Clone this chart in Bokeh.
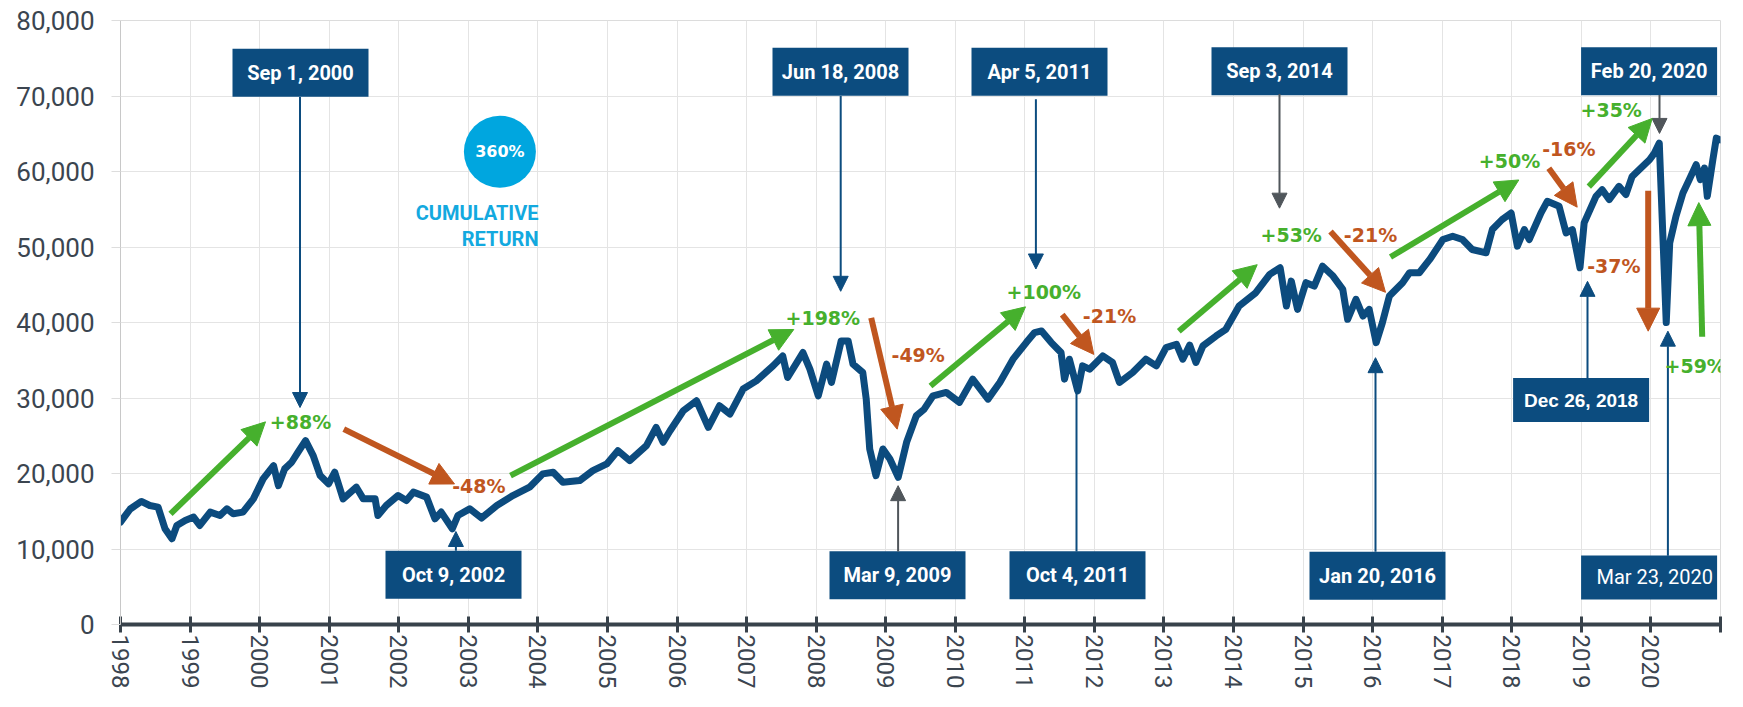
from bokeh.plotting import figure
from bokeh.models import Range1d, FixedTicker, NumeralTickFormatter, Arrow, NormalHead, Label
from bokeh.embed import file_html
from bokeh.resources import INLINE

# ---------------- data ----------------
years = [1998.00, 1998.14, 1998.30, 1998.42, 1998.54, 1998.64, 1998.74, 1998.81, 1998.93,
         1999.05, 1999.14, 1999.29, 1999.43, 1999.53, 1999.62, 1999.76, 1999.91,
         2000.05, 2000.20, 2000.27, 2000.36, 2000.46, 2000.55, 2000.66, 2000.77, 2000.87, 2000.99,
         2001.08, 2001.20, 2001.39, 2001.49, 2001.66, 2001.70, 2001.82, 2001.99,
         2002.11, 2002.21, 2002.40, 2002.52, 2002.61, 2002.77, 2002.85,
         2003.02, 2003.19, 2003.41, 2003.64, 2003.88,
         2004.07, 2004.22, 2004.36, 2004.60, 2004.79, 2004.99,
         2005.15, 2005.32, 2005.56, 2005.70, 2005.80, 2005.90,
         2006.09, 2006.28, 2006.45, 2006.61, 2006.76, 2006.95,
         2007.14, 2007.38, 2007.52, 2007.59, 2007.81, 2007.91,
         2008.03, 2008.15, 2008.22, 2008.36, 2008.46, 2008.53, 2008.67, 2008.72, 2008.77, 2008.86, 2008.96,
         2009.06, 2009.18, 2009.30, 2009.44, 2009.55, 2009.68, 2009.87,
         2010.06, 2010.25, 2010.47, 2010.64, 2010.83,
         2011.02, 2011.14, 2011.24, 2011.38, 2011.52, 2011.57, 2011.64, 2011.76, 2011.83, 2011.93,
         2012.12, 2012.26, 2012.36, 2012.55, 2012.74, 2012.89,
         2013.03, 2013.18, 2013.27, 2013.37, 2013.46, 2013.56, 2013.75, 2013.89,
         2014.08, 2014.32, 2014.52, 2014.67, 2014.76, 2014.83, 2014.92,
         2015.04, 2015.16, 2015.28, 2015.43, 2015.57, 2015.64, 2015.76, 2015.86, 2015.95,
         2016.05, 2016.14, 2016.24, 2016.43, 2016.53, 2016.67, 2016.82,
         2017.01, 2017.15, 2017.29, 2017.43, 2017.63, 2017.72, 2017.86, 2017.99,
         2018.08, 2018.18, 2018.25, 2018.42, 2018.51, 2018.68, 2018.78, 2018.87, 2018.98,
         2019.04, 2019.21, 2019.30, 2019.40, 2019.54, 2019.64, 2019.73, 2019.83, 2019.98,
         2020.05, 2020.12, 2020.17, 2020.22, 2020.27, 2020.36, 2020.46, 2020.55, 2020.65, 2020.71,
         2020.77, 2020.81, 2020.89, 2020.94, 2020.99]
values = [13570, 15300, 16300, 15760, 15550, 12680, 11360, 13120, 13780,
          14230, 13120, 14890, 14440, 15320, 14660, 14890, 16640,
          19290, 21040, 18400, 20610, 21490, 22810, 24350, 22370, 19720, 18630,
          20170, 16640, 18190, 16640, 16640, 14440, 15760, 17080,
          16420, 17530, 16870, 14000, 14890, 12680, 14440,
          15320, 14100, 15760, 17080, 18190,
          19950, 20170, 18850, 19060, 20380, 21270,
          23030, 21700, 23690, 26110, 24130, 25670,
          28310, 29630, 26110, 28970, 27870, 31180,
          32270, 34250, 35570, 32720, 36020, 33820,
          30290, 34480, 32060, 37560, 37560, 34480, 33380, 29850, 23250, 19720, 23250,
          21930, 19500, 24130, 27650, 28500, 30290, 30740,
          29420, 32500, 29850, 32060, 35140,
          37340, 38660, 38880, 37340, 36020, 32500, 35140, 30950, 34250, 33820,
          35570, 34700, 32060, 33380, 35140, 34250,
          36680, 37120, 35140, 37000, 34700, 36900, 38220, 39100,
          42180, 43950, 46370, 47250, 42180, 45480, 41740,
          45270, 44820, 47460, 46150, 44380, 40420, 43070, 40860, 41740,
          37340, 39980, 43500, 45270, 46590, 46590, 48350,
          50990, 51430, 50990, 49670, 49230, 52310, 53630, 54510,
          50110, 52310, 50990, 54510, 56050, 55390, 51870, 52310, 47250,
          53190, 56710, 57590, 56280, 58030, 56940, 59350, 60240, 61560,
          62440, 63760, 51870, 39990, 50550, 54070, 57150, 58920, 60900, 58920,
          60460, 56710, 61560, 64420, 64200]

x_ticks = list(range(1998, 2022))
x_tick_labels = [str(y) for y in range(1998, 2021)] + [""]
y_ticks = list(range(0, 80001, 10000))

date_labels_top = ["Sep 1, 2000", "Jun 18, 2008", "Apr 5, 2011", "Sep 3, 2014", "Feb 20, 2020"]
date_labels_bottom = ["Oct 9, 2002", "Mar 9, 2009", "Oct 4, 2011", "Jan 20, 2016"]
pct_labels = ["+88%", "-48%", "+198%", "-49%", "+100%", "-21%", "+53%", "-21%",
              "+50%", "-16%", "+35%", "-37%", "+59%"]
cumulative_label = "360%"

# ---------------- styling / layout helpers ----------------
NAVY = "#0c4c7f"
GREEN = "#46b02d"
ORANGE = "#c0561f"
GRAY = "#50565b"
CYAN = "#00a6df"
TXT = "#3b4550"

# reference-pixel -> data mapping (plot frame: x 120..1720, y 626..20)
def X(px):
    return 1998 + (px - 120.0) / 1600.0 * 23

def Y(py):
    return (626 - py) / 606.0 * 80000

p = figure(width=1727, height=691, x_range=Range1d(1998, 2021), y_range=Range1d(0, 80000),
           output_backend="svg", toolbar_location=None,
           min_border_left=120, min_border_right=7, min_border_top=20, min_border_bottom=65)
p.background_fill_color = "white"
p.border_fill_color = "white"
p.outline_line_color = "#dcdcdc"

p.xgrid.ticker = FixedTicker(ticks=x_ticks)
p.ygrid.ticker = FixedTicker(ticks=y_ticks)
p.grid.grid_line_color = "#e4e4e4"
p.grid.grid_line_width = 1

xa = p.xaxis[0]
xa.ticker = FixedTicker(ticks=x_ticks)
xa.major_label_overrides = {t: l for t, l in zip(x_ticks, x_tick_labels)}
xa.major_label_orientation = "vertical"
xa.axis_line_color = "#38424b"
xa.axis_line_width = 4
xa.major_tick_line_color = "#38424b"
xa.major_tick_line_width = 3
xa.major_tick_in = 8
xa.major_tick_out = 8
xa.minor_tick_line_color = None
xa.major_label_standoff = 2
xa.major_label_text_font = "Roboto"
xa.major_label_text_font_size = "24px"
xa.major_label_text_color = TXT

ya = p.yaxis[0]
ya.ticker = FixedTicker(ticks=y_ticks)
ya.formatter = NumeralTickFormatter(format="0,0")
ya.axis_line_color = "#c8c8c8"
ya.major_tick_line_color = "#dddddd"
ya.major_tick_in = 0
ya.major_tick_out = 9
ya.minor_tick_line_color = None
ya.major_label_standoff = 17
ya.major_label_text_font = "Roboto"
ya.major_label_text_font_size = "26px"
ya.major_label_text_color = TXT

# leader line hidden behind the data line (Oct 4, 2011)
p.segment(x0=[X(1076)], y0=[Y(552.7)], x1=[X(1076)], y1=[Y(392)], line_color=NAVY, line_width=2)

# main series
p.line(years, values, line_color="#0c4b7e", line_width=7, line_join="round", line_cap="round")

# cumulative return badge
p.scatter(x=[X(499.4)], y=[Y(151.7)], size=72, marker="circle", fill_color=CYAN, line_color=None)
p.add_layout(Label(x=X(499.4), y=Y(151.7), text=cumulative_label, text_align="center",
                   text_baseline="middle", text_color="white", text_font="DejaVu Sans",
                   text_font_style="bold", text_font_size="16px"))
for txt, py in [("CUMULATIVE", 213.3), ("RETURN", 239.3)]:
    p.add_layout(Label(x=X(538), y=Y(py), text=txt, text_align="right", text_baseline="middle",
                       text_color="#13a9df", text_font="Roboto", text_font_style="bold",
                       text_font_size="20px"))

# date boxes (centre x, centre y in reference pixels)
top_box_pos = [(300, 72.3), (840, 71.3), (1039, 71.3), (1279, 71), (1648.6, 71)]
bottom_box_pos = [(453, 576), (897, 576.7), (1077, 576.7), (1377, 577)]
bx = [X(c[0]) for c in top_box_pos + bottom_box_pos] + [X(1580.6), X(1648.6)]
by = [Y(c[1]) for c in top_box_pos + bottom_box_pos] + [Y(400.8), Y(578.8)]
bh = [48] * 9 + [44, 44]
p.rect(x=bx, y=by, width=[136] * 11, height=bh, width_units="screen", height_units="screen",
       fill_color=NAVY, line_color=None)

for txt, (cx, cy) in zip(date_labels_top + date_labels_bottom, top_box_pos + bottom_box_pos):
    p.add_layout(Label(x=X(cx), y=Y(cy), text=txt, text_align="center", text_baseline="middle",
                       text_color="white", text_font="Roboto", text_font_style="bold",
                       text_font_size="20px"))
p.add_layout(Label(x=X(1580.6), y=Y(400.8), text="Dec 26, 2018", text_align="center",
                   text_baseline="middle", text_color="white", text_font="Liberation Sans",
                   text_font_style="bold", text_font_size="19px"))
p.add_layout(Label(x=X(1596), y=Y(578.8), text="Mar 23, 2020", text_align="left",
                   text_baseline="middle", text_color="white", text_font="Roboto",
                   text_font_size="20px"))

# thin pointer arrows: (x, y_from, y_tip, colour)
pointers = [(299.5, 96.7, 408.3, NAVY), (840.2, 95.7, 291.7, NAVY), (1035.4, 99, 269.3, NAVY),
            (1279, 93.7, 208.3, GRAY), (1659, 94.7, 133.3, GRAY),
            (455.4, 552, 532.7, NAVY), (897.6, 552.7, 486.7, GRAY), (1375, 553, 358.3, NAVY),
            (1587, 379, 281.7, NAVY), (1667.4, 557, 331.7, NAVY)]
for px, y0, y1, col in pointers:
    p.add_layout(Arrow(x_start=X(px), y_start=Y(y0), x_end=X(px), y_end=Y(y1),
                       line_color=col, line_width=2,
                       end=NormalHead(size=15, fill_color=col, line_color=col, line_width=1)))

# thick move arrows: (tail, tip, label left x, label centre y)
moves = [((170, 515), (265, 422.7), 269.3, 423.3),
         ((343.3, 430), (454, 485), 451.7, 486.7),
         ((510, 476.7), (793.3, 330), 785, 318.3),
         ((870.7, 318.3), (896.7, 430), 891, 356),
         ((930, 386.7), (1025, 307.3), 1006, 292.7),
         ((1061.7, 315), (1093.3, 355), 1082.3, 316.7),
         ((1178.3, 331.7), (1256.7, 265), 1260, 235),
         ((1330, 231.7), (1385, 292.7), 1343.3, 235),
         ((1390, 257.3), (1518.3, 180), 1478.3, 161),
         ((1548.3, 168.3), (1576.7, 207.3), 1541.7, 149.3),
         ((1588.3, 186.7), (1651.7, 118.3), 1580, 110),
         ((1647.7, 190.7), (1647.7, 331.7), 1586.7, 266.7),
         ((1701.7, 337.3), (1698.3, 202.7), 1664, 366.7)]
for txt, (t0, t1, lx, ly) in zip(pct_labels, moves):
    col = GREEN if txt.startswith("+") else ORANGE
    p.add_layout(Arrow(x_start=X(t0[0]), y_start=Y(t0[1]), x_end=X(t1[0]), y_end=Y(t1[1]),
                       line_color=col, line_width=6,
                       end=NormalHead(size=23, fill_color=col, line_color=col, line_width=1)))
    p.add_layout(Label(x=X(lx), y=Y(ly), text=txt, text_align="left", text_baseline="middle",
                       text_color=col, text_font="DejaVu Sans", text_font_style="bold",
                       text_font_size="19px"))

open("out.html", "w").write(file_html(p, INLINE))
